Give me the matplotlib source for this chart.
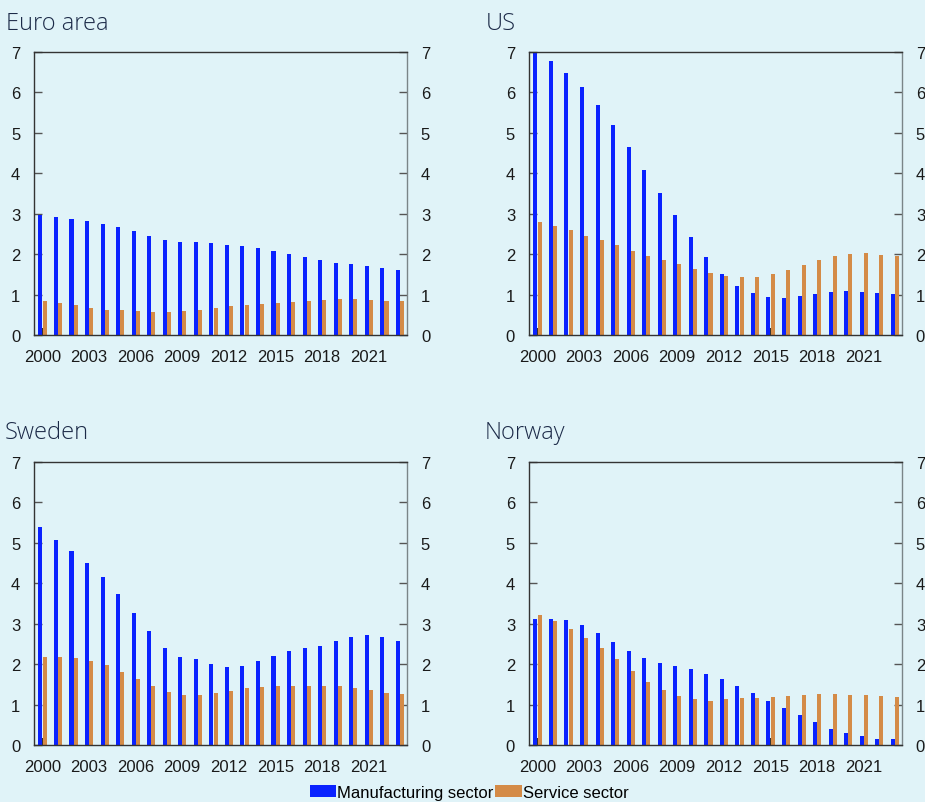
import matplotlib.pyplot as plt
import numpy as np

# Data
years = np.arange(2000, 2024)
tick_years = [2000, 2003, 2006, 2009, 2012, 2015, 2018, 2021]

euro_manuf = [2.98, 2.91, 2.86, 2.81, 2.74, 2.66, 2.56, 2.44, 2.34, 2.29, 2.29, 2.27,
              2.22, 2.19, 2.14, 2.07, 2.00, 1.92, 1.85, 1.77, 1.75, 1.70, 1.65, 1.60]
euro_serv = [0.83, 0.78, 0.73, 0.66, 0.63, 0.61, 0.59, 0.56, 0.56, 0.59, 0.61, 0.66,
             0.71, 0.73, 0.76, 0.78, 0.81, 0.83, 0.86, 0.88, 0.88, 0.86, 0.83, 0.83]

us_manuf = [7.05, 6.77, 6.47, 6.13, 5.68, 5.19, 4.64, 4.07, 3.50, 2.96, 2.42, 1.92,
            1.50, 1.20, 1.03, 0.93, 0.91, 0.96, 1.01, 1.06, 1.08, 1.06, 1.03, 1.01]
us_serv = [2.79, 2.69, 2.59, 2.46, 2.34, 2.22, 2.07, 1.95, 1.85, 1.75, 1.62, 1.53,
           1.45, 1.43, 1.43, 1.50, 1.60, 1.72, 1.85, 1.95, 2.00, 2.02, 1.97, 1.95]

sweden_manuf = [5.38, 5.06, 4.79, 4.49, 4.15, 3.73, 3.26, 2.81, 2.39, 2.17, 2.12, 2.00,
                1.92, 1.95, 2.07, 2.19, 2.32, 2.39, 2.46, 2.56, 2.66, 2.71, 2.66, 2.56]
sweden_serv = [2.17, 2.17, 2.14, 2.07, 1.97, 1.80, 1.62, 1.45, 1.30, 1.23, 1.23, 1.28,
               1.33, 1.40, 1.43, 1.45, 1.45, 1.45, 1.45, 1.45, 1.40, 1.35, 1.28, 1.25]

norway_manuf = [3.11, 3.11, 3.08, 2.96, 2.76, 2.54, 2.32, 2.14, 2.04, 1.95, 1.87, 1.75,
                1.62, 1.45, 1.28, 1.08, 0.91, 0.73, 0.56, 0.39, 0.29, 0.21, 0.14, 0.14]
norway_serv = [3.21, 3.06, 2.86, 2.64, 2.39, 2.12, 1.82, 1.55, 1.35, 1.20, 1.13, 1.10,
               1.13, 1.15, 1.15, 1.18, 1.20, 1.23, 1.25, 1.25, 1.23, 1.23, 1.20, 1.18]

titles = ["Euro area", "US", "Sweden", "Norway"]
manuf = [euro_manuf, us_manuf, sweden_manuf, norway_manuf]
serv = [euro_serv, us_serv, sweden_serv, norway_serv]

BG = "#e0f3f8"
BLUE = "#0a22ff"
ORANGE = "#d48b47"

plt.rcParams['font.family'] = ['Liberation Sans', 'DejaVu Sans']

fig = plt.figure(figsize=(9.25, 8.03), dpi=100, facecolor=BG)

# axes positions in figure fraction: left, bottom
positions = [(0.0368, 0.5816), (0.5719, 0.5816), (0.0368, 0.0710), (0.5719, 0.0710)]
title_pos = [(0.007, 0.9855), (0.525, 0.9855), (0.005, 0.4755), (0.524, 0.4755)]
w, h = 0.4032, 0.3524

for i in range(4):
    ax = fig.add_axes([positions[i][0], positions[i][1], w, h], facecolor=BG)
    ax.bar(years - 0.12, manuf[i], width=0.26, color=BLUE, label="Manufacturing sector", zorder=2)
    ax.bar(years + 0.15, serv[i], width=0.26, color=ORANGE, label="Service sector", zorder=2)
    ax.set_xlim(1999.47, 2023.47)
    ax.set_ylim(0, 7)
    ax.set_yticks(range(8))
    ax.set_xticks(tick_years)
    ax.tick_params(axis='x', direction='in', length=5, width=1.5, color='#333333',
                   labelsize=12, pad=10, labelcolor='#1a1a1a')
    ax.tick_params(axis='y', direction='in', length=6, width=1, color='#555555',
                   labelsize=12, pad=10, labelcolor='#1a1a1a',
                   left=True, right=True, labelleft=True, labelright=True)
    for s in ['top', 'left', 'bottom']:
        ax.spines[s].set_color('#333333')
        ax.spines[s].set_linewidth(1.0)
    ax.spines['right'].set_color('#7a8588')
    ax.spines['right'].set_linewidth(1.0)
    for t in ax.get_xticklines():
        t.set_zorder(5)
    fig.text(title_pos[i][0], title_pos[i][1], titles[i], fontsize=17, fontweight='light',
             family=['Open Sans', 'DejaVu Sans'], color='#1c2a48', va='top', ha='left')

handles, labels = ax.get_legend_handles_labels()
fig.legend(handles, labels, loc='lower center', bbox_to_anchor=(0.507, -0.010), ncol=2,
           frameon=False, fontsize=12, handlelength=1.6, handleheight=0.75,
           handletextpad=0.05, columnspacing=0.1, borderaxespad=0.2)

plt.savefig("out.png", dpi=100, facecolor=BG)
